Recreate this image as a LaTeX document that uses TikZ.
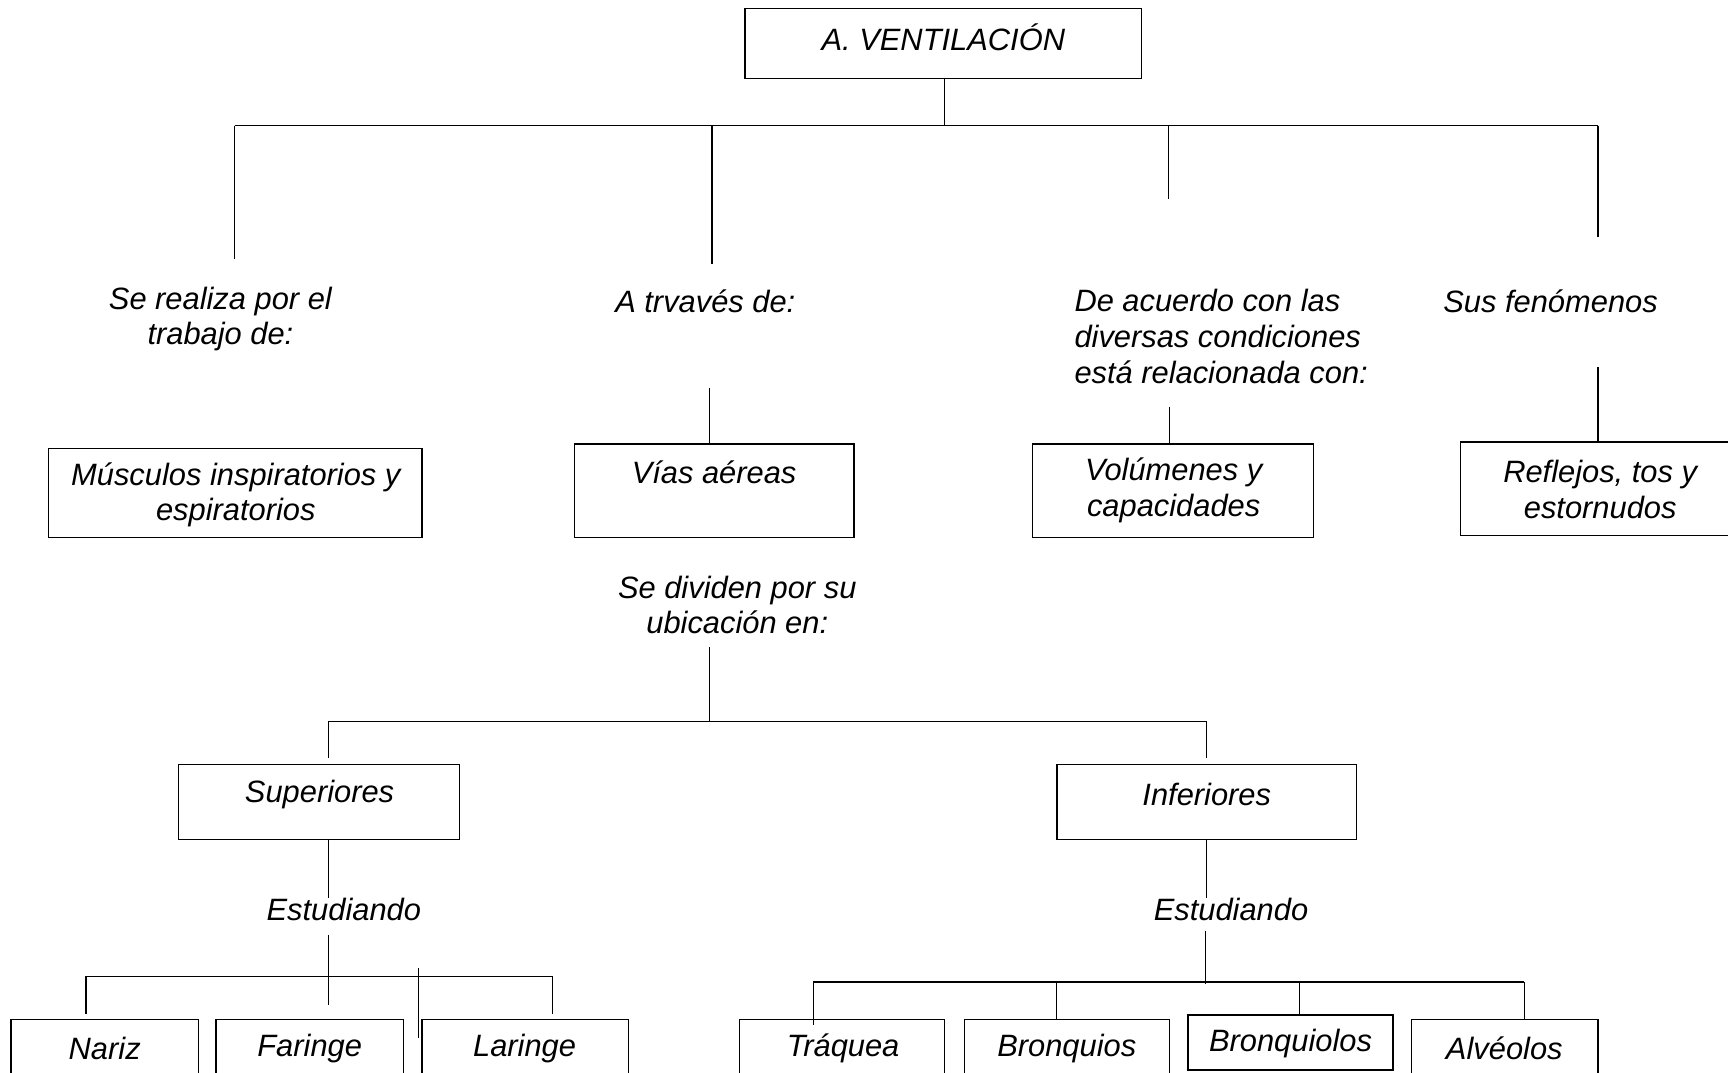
\documentclass[tikz,border=0pt]{standalone}
\usepackage{fontspec}
\setmainfont{Liberation Sans}
\begin{document}
\begin{tikzpicture}[x=1pt,y=-1pt,
  every node/.style={font=\fontsize{28pt}{32.5pt}\selectfont\itshape, inner sep=0pt, outer sep=0pt},
  box/.style={draw, line width=1.2pt},
  txt/.style={align=center},
  link/.style={line width=1.1pt}]
\useasboundingbox (0,0) rectangle (1568,973);

% --- level 0 ---
\node[box, minimum width=360pt, minimum height=63pt] (top) at (856,39.5) {};
\node[txt] (ttop) at (856,34) {A. VENTILACIÓN};

\coordinate (hub) at (857,114);
\coordinate (busL) at (213,114);
\coordinate (busR) at (1450,114);
\draw[link] (top.south -| hub) -- (hub);
\draw[link] (busL) -- (busR);

% --- level 1 labels ---
\node[txt] (l1) at (200,289.5) {Se realiza por el\\trabajo de:};
\node[txt] (l2) at (640,273) {A trvavés de:};
\node[align=left, anchor=west] (l3) at (975,305.5) {De acuerdo con las\\diversas condiciones\\está relacionada con:};
\node[txt] (l4) at (1407,273) {Sus fenómenos};

\coordinate (d1) at (213,235);
\coordinate (d2) at (646,240);
\coordinate (d3) at (1060,181);
\coordinate (d4) at (1450,215);
\draw[link] (busL) -- (d1);
\draw[link] (646,114) coordinate (j2) -- (d2);
\draw[link] (1060,114) coordinate (j3) -- (d3);
\draw[link] (busR) -- (d4);

% --- level 1 boxes ---
\node[box, minimum width=339pt, minimum height=81pt] (musc) at (213.5,447.5) {};
\node[txt] (tmusc) at (214,449) {Músculos inspiratorios y\\espiratorios};
\node[box, minimum width=254pt, minimum height=85pt] (vias) at (648,445.5) {};
\node[txt] (tvias) at (648,429) {Vías aéreas};
\node[box, minimum width=255pt, minimum height=85pt] (vol) at (1064.5,445.5) {};
\node[txt] (tvol) at (1065,445) {Volúmenes y\\capacidades};
\node[box, minimum width=245pt, minimum height=85pt] (refl) at (1447.5,443.5) {};
\node[txt] (trefl) at (1452,444) {Reflejos, tos y\\estornudos};

\coordinate (u2) at (644,352);
\coordinate (u3) at (1061,369);
\coordinate (u4) at (1450,333);
\draw[link] (u2) -- (u2 |- vias.north);
\draw[link] (u3) -- (u3 |- vol.north);
\draw[link] (u4) -- (u4 |- refl.north);

% --- division of the airways ---
\node[txt] (ldiv) at (669,549) {Se dividen por su\\ubicación en:};
\coordinate (v0) at (644,587);
\coordinate (hub2) at (644,655);
\coordinate (bus2L) at (298,655);
\coordinate (bus2R) at (1095,655);
\draw[link] (v0) -- (hub2);
\draw[link] (bus2L) -- (bus2R);
\draw[link] (bus2L) -- (298,688);
\draw[link] (bus2R) -- (1095,688);

\node[box, minimum width=255pt, minimum height=68pt] (sup) at (289.5,728) {};
\node[txt] (tsup) at (290,721) {Superiores};
\node[box, minimum width=272pt, minimum height=68pt] (inf) at (1095,728) {};
\node[txt] (tinf) at (1095,721) {Inferiores};

% --- upper airways ---
\draw[link] (298,762) -- (298,815);
\node[txt] (est1) at (312,825) {Estudiando};
\draw[link] (298,848) -- (298,912);
\coordinate (bus3L) at (78,886);
\coordinate (bus3R) at (501,886);
\draw[link] (bus3L) -- (bus3R);
\draw[link] (bus3L) -- (78,920);
\draw[link] (bus3R) -- (501,920);
\draw[link] (380,878) -- (380,942);

\node[box, minimum width=170pt, minimum height=60pt] (nariz) at (95,955) {};
\node[txt] (tnariz) at (95,951) {Nariz};
\node[box, minimum width=170pt, minimum height=60pt] (faringe) at (281,955) {};
\node[txt] (tfaringe) at (281,951) {Faringe};
\node[box, minimum width=187pt, minimum height=60pt] (laringe) at (476.5,955) {};
\node[txt] (tlaringe) at (476,951) {Laringe};

% --- lower airways ---
\draw[link] (1095,762) -- (1095,815);
\node[txt] (est2) at (1117,825) {Estudiando};
\draw[link] (1094,845) -- (1094,893);
\coordinate (bus4L) at (738,891);
\coordinate (bus4R) at (1383,891);
\draw[link] (bus4L) -- (bus4R);

\node[box, minimum width=186pt, minimum height=60pt] (traq) at (764,955) {};
\node[txt] (ttraq) at (765,951) {Tráquea};
\node[box, minimum width=186pt, minimum height=60pt] (bronq) at (968,955) {};
\node[txt] (tbronq) at (968,951) {Bronquios};
\node[box, minimum width=186pt, minimum height=50pt] (bronql) at (1171,946) {};
\node[txt] (tbronql) at (1171,947) {Bronquiolos};
\node[box, minimum width=169pt, minimum height=60pt] (alv) at (1365.5,955) {};
\node[txt] (talv) at (1365,951) {Alvéolos};

\draw[link] (bus4L) -- (738,930);
\draw[link] (959,891) -- (959 ,925);
\draw[link] (1179,891) -- (1179,921);
\draw[link] (bus4R) -- (bus4R |- alv.north);
\end{tikzpicture}
\end{document}
